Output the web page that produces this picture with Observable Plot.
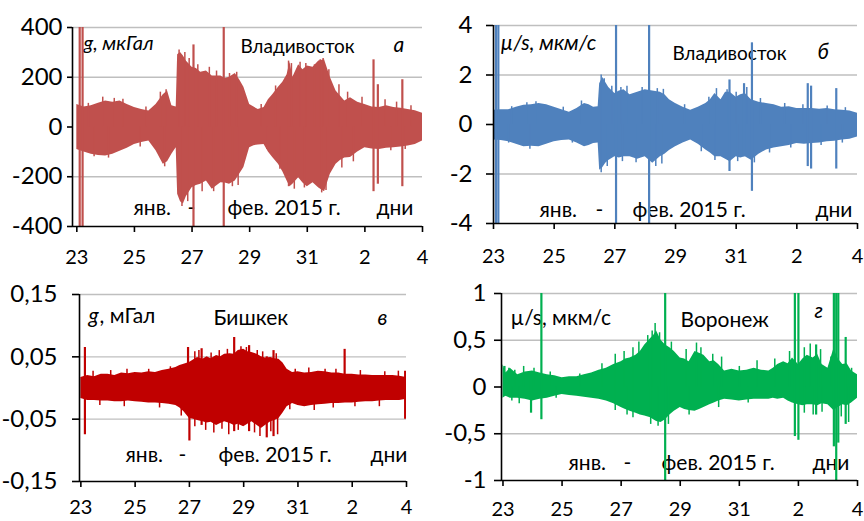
<!DOCTYPE html>
<html>
<head>
<meta charset="utf-8">
<script src="https://cdn.jsdelivr.net/npm/d3@7"></script>
<script src="https://cdn.jsdelivr.net/npm/@observablehq/plot@0.6"></script>
<style>
  html, body { margin: 0; padding: 0; background: #fff; }
  #wrap { position: relative; width: 864px; height: 521px; overflow: hidden; background: #fff; }
  .panel { position: absolute; }
  svg { font-family: Lato, "Open Sans", sans-serif; overflow: visible; }
</style>
</head>
<body>
<div id="wrap">
  <div class="panel" id="pa" style="left:0;top:0"></div>
  <div class="panel" id="pb" style="left:432px;top:0"></div>
  <div class="panel" id="pc" style="left:0;top:265px"></div>
  <div class="panel" id="pd" style="left:432px;top:265px"></div>
</div>
<script>
// ---------- shared x axis (days: 23 Jan ... 4 Feb 2015) ----------
const xTickDays = [23, 25, 27, 29, 31, 33, 35];
const xTickLabels = ["23", "25", "27", "29", "31", "2", "4"];

// ---------- panel а: Владивосток, g, мкГал ----------
const aDay = [23,23.25,23.5,23.75,24,24.25,24.5,24.75,25,25.25,25.5,25.75,26,26.15,26.3,26.45,26.5,26.6,26.7,26.8,27,27.15,27.3,27.5,27.7,28,28.15,28.3,28.5,28.65,28.8,29,29.15,29.3,29.5,29.65,29.8,30,30.15,30.3,30.4,30.5,30.7,30.85,31,31.2,31.4,31.6,31.8,32,32.15,32.3,32.5,32.75,33,33.25,33.5,33.75,34,34.25,34.5,34.75,35];
const aHi = [90,80,85,95,105,100,105,90,78,70,64,90,130,145,85,80,290,300,285,265,240,235,220,225,205,205,195,200,215,190,160,90,80,70,78,110,130,160,180,210,260,200,250,230,245,240,265,270,200,145,125,105,118,100,90,80,78,85,78,75,70,65,55];
const aLo = [-90,-100,-110,-115,-117,-110,-97,-85,-70,-62,-56,-95,-150,-140,-110,-83,-270,-300,-310,-280,-244,-235,-230,-217,-250,-224,-225,-230,-217,-190,-163,-83,-75,-72,-70,-100,-123,-150,-180,-217,-240,-230,-204,-225,-240,-224,-245,-260,-190,-150,-135,-125,-123,-100,-83,-88,-90,-85,-83,-80,-76,-70,-56];
const aSpikeDay = [23.1, 23.2, 27.05, 28.1, 33.3, 33.45, 34.3];
const aSpikeHi  = [420, 420, 330, 420, 270, 170, 190];
const aSpikeLo  = [-420, -420, -420, -420, -260, -230, -240];
const aPeakDay = [23.4,23.9,24.3,24.6,25.4,25.9,26.1,26.55,26.75,26.9,27.2,27.6,27.85,28.3,28.55,29.4,29.9,30.35,30.45,30.75,30.95,31.25,31.45,31.55,31.75,32.1,32.4,32.9,33.7,34.1,34.6,23.6,24.1,25.2,26.05,26.65,26.85,27.35,27.75,28.4,28.6,29.6,30.05,30.35,30.55,30.9,31.5,31.65,32.2,32.6,33.9,34.4];
const aPeakVal = [95,120,115,112,80,140,150,310,300,275,250,240,225,215,220,90,165,265,255,260,255,250,270,275,230,170,140,120,110,100,85,-120,-125,-80,-160,-320,-300,-260,-260,-240,-235,-90,-170,-240,-250,-245,-265,-255,-165,-140,-95,-90];
const aTicks = [-400, -200, 0, 200, 400];

// ---------- panel б: Владивосток, µ/s, мкм/с ----------
const bDay = [23,23.25,23.5,23.75,24,24.25,24.5,24.75,25,25.25,25.5,25.75,26,26.15,26.3,26.45,26.5,26.6,26.7,26.8,27,27.15,27.3,27.5,27.75,28,28.25,28.5,28.65,28.8,29,29.25,29.5,29.75,30,30.15,30.3,30.5,30.65,30.8,30.9,31,31.15,31.3,31.5,31.75,32,32.25,32.5,32.75,33,33.25,33.5,33.75,34,34.25,34.5,34.75,35];
const bHi = [0.58,0.6,0.6,0.7,0.78,0.8,0.85,0.8,0.7,0.6,0.5,0.65,0.85,0.8,0.7,0.72,1.65,1.9,1.7,1.5,1.25,1.35,1.4,1.2,1.3,1.4,1.35,1.3,1.2,1.0,0.85,0.7,0.58,0.7,0.85,1.0,1.25,1.0,1.3,1.3,1.2,1.1,1.2,1.25,1.0,0.9,0.85,0.8,0.7,0.72,0.65,0.65,0.65,0.62,0.65,0.6,0.58,0.55,0.45];
const bLo = [-0.63,-0.65,-0.7,-0.8,-0.9,-0.88,-0.9,-0.8,-0.7,-0.65,-0.63,-0.75,-0.9,-0.85,-0.77,-0.75,-1.85,-1.75,-1.57,-1.45,-1.3,-1.35,-1.3,-1.3,-1.4,-1.3,-1.57,-1.3,-1.2,-1.05,-0.9,-0.75,-0.63,-0.8,-1.03,-1.15,-1.3,-1.3,-1.4,-1.5,-1.4,-1.3,-1.35,-1.3,-1.44,-1.2,-1.03,-0.95,-0.9,-0.85,-0.77,-0.8,-0.77,-0.75,-0.7,-0.68,-0.63,-0.6,-0.5];
const bSpikeDay = [23.08, 23.16, 27.04, 28.13, 30.78, 31.26, 31.52, 33.36, 33.47, 34.3];
const bSpikeHi  = [4.2, 4.2, 4.2, 4.2, 1.8, 1.65, 3.3, 1.65, 1.55, 1.45];
const bSpikeLo  = [-4.2, -4.2, -4.2, -4.2, -1.9, -1.3, -2.7, -1.7, -1.8, -1.8];
const bPeakDay = [23.6,24.1,24.4,25.3,25.9,26.55,26.65,26.9,27.2,27.4,27.9,28.4,28.6,29.3,30.1,30.35,30.7,31.0,31.35,31.8,32.6,33.2,34.0,34.6,23.5,24.2,25.6,26.55,26.75,27.25,27.7,28.35,28.55,29.85,30.3,31.05,31.6,32.1,32.8,33.8,34.5];
const bPeakVal = [0.72,0.88,0.92,0.7,0.95,2.0,1.85,1.55,1.5,1.55,1.5,1.45,1.42,0.8,1.1,1.45,1.4,1.3,1.5,1.05,0.85,0.8,0.75,0.68,-0.75,-1.0,-0.75,-1.95,-1.7,-1.5,-1.55,-1.7,-1.6,-1.1,-1.45,-1.5,-1.55,-1.15,-0.95,-0.85,-0.75];
const bTicks = [-4, -2, 0, 2, 4];

// ---------- panel в: Бишкек, g, мГал ----------
const cDay = [23,23.25,23.5,23.75,24,24.25,24.5,24.75,25,25.25,25.5,25.75,26,26.25,26.5,26.65,26.8,27,27.15,27.3,27.5,27.65,27.8,28,28.15,28.3,28.5,28.65,28.8,29,29.15,29.3,29.5,29.65,29.8,30,30.15,30.3,30.45,30.6,30.8,31,31.25,31.5,31.75,32,32.25,32.5,32.75,33,33.25,33.5,33.75,34,34.25,34.5,34.75,35];
const cHi = [0.017,0.02,0.018,0.022,0.022,0.02,0.024,0.023,0.025,0.024,0.026,0.025,0.028,0.03,0.033,0.036,0.038,0.041,0.045,0.049,0.046,0.05,0.047,0.052,0.05,0.054,0.055,0.054,0.06,0.062,0.058,0.057,0.054,0.05,0.048,0.049,0.047,0.046,0.04,0.03,0.025,0.026,0.024,0.025,0.027,0.026,0.024,0.024,0.022,0.022,0.021,0.021,0.02,0.02,0.02,0.02,0.019,0.017];
const cLo = [-0.017,-0.02,-0.02,-0.021,-0.021,-0.022,-0.022,-0.021,-0.022,-0.023,-0.024,-0.024,-0.025,-0.026,-0.028,-0.032,-0.038,-0.049,-0.05,-0.052,-0.054,-0.056,-0.055,-0.06,-0.057,-0.054,-0.057,-0.06,-0.058,-0.062,-0.058,-0.054,-0.06,-0.065,-0.06,-0.054,-0.052,-0.049,-0.04,-0.03,-0.025,-0.028,-0.03,-0.028,-0.027,-0.026,-0.025,-0.025,-0.024,-0.024,-0.023,-0.022,-0.022,-0.021,-0.02,-0.02,-0.02,-0.018];
const cSpikeDay = [23.15, 26.95, 27.0, 27.45, 28.65, 29.2, 29.85, 30.1, 32.72, 34.95];
const cSpikeHi  = [0.065, 0.065, 0.04, 0.063, 0.081, 0.068, 0.05, 0.06, 0.062, 0.027];
const cSpikeLo  = [-0.075, -0.04, -0.085, -0.06, -0.07, -0.07, -0.08, -0.078, -0.02, -0.05];
const cPeakDay = [23.45,24.1,24.7,25.5,26.3,27.2,27.35,27.8,28.1,28.4,28.9,29.1,29.5,29.7,30.2,30.9,31.4,32.0,32.4,33.3,34.2,34.7,23.7,24.6,25.9,26.7,27.2,27.6,27.9,28.2,28.45,28.8,29.4,29.6,30.0,30.25,30.7,31.6,32.3,33.1,34.0];
const cPeakVal = [0.027,0.028,0.03,0.03,0.034,0.058,0.06,0.056,0.06,0.062,0.066,0.065,0.06,0.058,0.055,0.03,0.032,0.03,0.03,0.028,0.026,0.027,-0.028,-0.03,-0.032,-0.045,-0.062,-0.068,-0.072,-0.066,-0.075,-0.068,-0.072,-0.078,-0.07,-0.075,-0.035,-0.036,-0.032,-0.03,-0.03];
const cTicks = [-0.15, -0.05, 0.05, 0.15];

// ---------- panel г: Воронеж, µ/s, мкм/с ----------
const dDay = [23,23.1,23.25,23.5,23.75,24,24.25,24.5,24.75,25,25.25,25.5,25.75,26,26.25,26.5,26.75,27,27.15,27.3,27.5,27.65,27.8,28,28.1,28.2,28.35,28.5,28.65,28.8,29,29.15,29.3,29.5,29.65,29.8,30,30.15,30.3,30.5,30.75,31,31.25,31.5,31.75,32,32.15,32.3,32.5,32.65,32.8,33,33.15,33.3,33.5,33.65,33.8,34,34.2,34.35,34.5,34.65,34.8,35];
const dHi = [0.24,0.15,0.2,0.13,0.16,0.17,0.15,0.13,0.12,0.1,0.11,0.11,0.13,0.15,0.18,0.2,0.24,0.27,0.3,0.31,0.34,0.38,0.45,0.52,0.55,0.6,0.5,0.45,0.42,0.38,0.31,0.3,0.27,0.38,0.36,0.34,0.27,0.28,0.24,0.17,0.19,0.17,0.18,0.2,0.18,0.17,0.2,0.24,0.27,0.25,0.31,0.24,0.3,0.34,0.31,0.35,0.24,0.2,0.41,0.3,0.24,0.25,0.17,0.13];
const dLo = [-0.12,-0.1,-0.12,-0.12,-0.13,-0.15,-0.13,-0.12,-0.1,-0.08,-0.09,-0.1,-0.11,-0.12,-0.13,-0.15,-0.18,-0.22,-0.24,-0.26,-0.28,-0.3,-0.31,-0.33,-0.35,-0.37,-0.38,-0.35,-0.3,-0.26,-0.22,-0.24,-0.25,-0.26,-0.24,-0.22,-0.19,-0.17,-0.15,-0.13,-0.14,-0.15,-0.14,-0.13,-0.13,-0.13,-0.12,-0.13,-0.12,-0.15,-0.17,-0.19,-0.2,-0.19,-0.19,-0.2,-0.18,-0.19,-0.25,-0.22,-0.19,-0.2,-0.17,-0.12];
const dSpikeDay = [23.05, 23.95, 24.3, 28.49, 32.88, 33.0, 33.6, 34.2, 34.28, 34.35, 34.6];
const dSpikeHi  = [0.22, 0.1, 1.05, 1.05, 1.05, 1.05, 0.45, 1.05, 1.05, 1.05, 0.53];
const dSpikeLo  = [-0.1, -0.28, -0.35, -1.05, -0.53, -0.57, -0.3, -0.64, -1.05, -0.6, -0.4];
const dPeakDay = [23.2,23.4,23.7,24.05,24.6,25.6,26.35,26.8,27.1,27.4,27.6,27.9,28.05,28.15,28.3,28.7,29.2,29.55,29.7,30.1,30.4,31.0,31.6,32.2,32.7,33.2,33.4,33.75,34.1,34.8,23.3,23.55,24.8,26.8,27.2,27.4,28.0,28.25,28.6,29.3,30.3,31.3,33.2,33.5,33.8,34.45,34.7];
const dPeakVal = [0.2,0.18,0.22,0.2,0.16,0.14,0.25,0.35,0.38,0.42,0.48,0.55,0.6,0.68,0.58,0.48,0.4,0.47,0.42,0.35,0.32,0.22,0.28,0.3,0.38,0.42,0.46,0.4,0.32,0.2,-0.15,-0.18,-0.12,-0.25,-0.3,-0.33,-0.4,-0.42,-0.4,-0.3,-0.22,-0.17,-0.28,-0.3,-0.27,-0.32,-0.38];
const dTicks = [-1, -0.5, 0, 0.5, 1];

// ---------- helpers ----------
const zip3 = (d, a, b) => d.map((v, i) => ({d: v, hi: a[i], lo: b[i]}));
const zip2 = (d, a) => d.map((v, i) => ({d: v, v: a[i]}));
const commaFmt = v => String(v).replace(".", ",");
const xLabel = v => xTickLabels[xTickDays.indexOf(v)];

function panel(cfg) {
  const [y0] = cfg.yDomain;
  const series = zip3(cfg.day, cfg.hi, cfg.lo);
  const spikes = zip3(cfg.sDay, cfg.sHi, cfg.sLo);
  const peaks = zip2(cfg.pDay, cfg.pVal);
  const textMark = (t) => Plot.text([t.s], {
    text: d => d, frameAnchor: "top-left", dx: t.dx, dy: t.dy,
    textAnchor: "start", lineAnchor: "middle", fontSize: t.fs,
    fontStyle: t.it ? "italic" : "normal", fill: "#000"
  });
  return Plot.plot({
    width: cfg.width, height: cfg.height,
    marginLeft: cfg.ml, marginRight: cfg.mr, marginTop: cfg.mt, marginBottom: cfg.mb,
    x: {domain: cfg.xDomain, axis: null},
    y: {domain: cfg.yDomain, axis: null},
    style: {fontFamily: "Lato, 'Open Sans', sans-serif", background: "transparent", color: "#000", overflow: "visible"},
    marks: [
      Plot.ruleY(cfg.ticks.filter(t => t !== y0 && t !== 0), {stroke: "#bfbfbf", strokeWidth: 1.3}),
      ...cfg.texts.map(textMark),
      Plot.areaY(series, {x: "d", y1: "lo", y2: "hi", fill: cfg.color, curve: "linear"}),
      Plot.ruleX(peaks, {x: "d", y1: 0, y2: "v", stroke: cfg.color, strokeWidth: 1.5}),
      Plot.ruleX(spikes, {x: "d", y1: "lo", y2: "hi", stroke: cfg.color, strokeWidth: 2.2, clip: true}),
      Plot.ruleX([cfg.xDomain[0]], {stroke: "#000", strokeWidth: 1.6}),
      Plot.ruleY([y0], {stroke: "#000", strokeWidth: 1.6}),
      Plot.axisY(cfg.ticks, {tickSize: cfg.yTickSize, tickPadding: cfg.yPad, tickFormat: commaFmt, label: null,
        fontSize: 24, stroke: "#000", strokeWidth: 1.6, fill: "#000"}),
      Plot.axisX(xTickDays, {tickSize: 6, tickPadding: cfg.xPad, tickFormat: xLabel, label: null,
        fontSize: 20, stroke: "#000", strokeWidth: 1.6, fill: "#000"})
    ]
  });
}

document.getElementById("pa").appendChild(panel({
  width: 432, height: 265, ml: 72, mr: 10, mt: 27, mb: 39,
  xDomain: [22.85, 35], yDomain: [-400, 400], ticks: aTicks, color: "#c0504d",
  yTickSize: 5, yPad: 5, xPad: 17,
  day: aDay, hi: aHi, lo: aLo, sDay: aSpikeDay, sHi: aSpikeHi, sLo: aSpikeLo, pDay: aPeakDay, pVal: aPeakVal,
  texts: [
    {s: "g, мкГал", dx: 11, dy: 16, it: true, fs: 20},
    {s: "Владивосток", dx: 168, dy: 19, fs: 19},
    {s: "а", dx: 321, dy: 18, it: true, fs: 21},
    {s: "янв.", dx: 61, dy: 181, fs: 21},
    {s: "-", dx: 115, dy: 181, fs: 21},
    {s: "фев. 2015 г.", dx: 155, dy: 181, fs: 21},
    {s: "дни", dx: 304, dy: 181, fs: 21}
  ]
}));

document.getElementById("pb").appendChild(panel({
  width: 432, height: 265, ml: 61, mr: 7, mt: 25, mb: 42,
  xDomain: [23, 35], yDomain: [-4, 4], ticks: bTicks, color: "#4f81bd",
  yTickSize: 7, yPad: 14, xPad: 19,
  day: bDay, hi: bHi, lo: bLo, sDay: bSpikeDay, sHi: bSpikeHi, sLo: bSpikeLo, pDay: bPeakDay, pVal: bPeakVal,
  texts: [
    {s: "µ/s, мкм/с", dx: 7, dy: 18, it: true, fs: 21},
    {s: "Владивосток", dx: 179, dy: 28, fs: 19},
    {s: "б", dx: 324, dy: 27, it: true, fs: 21},
    {s: "янв.", dx: 46, dy: 185, fs: 21},
    {s: "-", dx: 102, dy: 185, fs: 21},
    {s: "фев. 2015 г.", dx: 139, dy: 185, fs: 21},
    {s: "дни", dx: 322, dy: 185, fs: 21}
  ]
}));

document.getElementById("pc").appendChild(panel({
  width: 432, height: 256, ml: 79, mr: 26, mt: 29, mb: 40,
  xDomain: [22.95, 35], yDomain: [-0.15, 0.15], ticks: cTicks, color: "#c00000",
  yTickSize: 7, yPad: 15, xPad: 12,
  day: cDay, hi: cHi, lo: cLo, sDay: cSpikeDay, sHi: cSpikeHi, sLo: cSpikeLo, pDay: cPeakDay, pVal: cPeakVal,
  texts: [
    {s: "g", dx: 9, dy: 22, it: true, fs: 21},
    {s: ", мГал", dx: 20, dy: 22, fs: 21},
    {s: "Бишкек", dx: 134, dy: 24, fs: 21},
    {s: "в", dx: 298, dy: 24, it: true, fs: 21},
    {s: "янв.", dx: 46, dy: 161, fs: 21},
    {s: "-", dx: 99, dy: 161, fs: 21},
    {s: "фев. 2015 г.", dx: 139, dy: 161, fs: 21},
    {s: "дни", dx: 291, dy: 161, fs: 21}
  ]
}));

document.getElementById("pd").appendChild(panel({
  width: 432, height: 256, ml: 69, mr: 7, mt: 28, mb: 41,
  xDomain: [22.95, 35], yDomain: [-1, 1], ticks: dTicks, color: "#00b050",
  yTickSize: 7, yPad: 8, xPad: 15,
  day: dDay, hi: dHi, lo: dLo, sDay: dSpikeDay, sHi: dSpikeHi, sLo: dSpikeLo, pDay: dPeakDay, pVal: dPeakVal,
  texts: [
    {s: "µ/s, мкм/с", dx: 9, dy: 25, fs: 21},
    {s: "Воронеж", dx: 179, dy: 27, fs: 21},
    {s: "г", dx: 313, dy: 18, it: true, fs: 21},
    {s: "янв.", dx: 67, dy: 170, fs: 21},
    {s: "-", dx: 122, dy: 170, fs: 21},
    {s: "фев. 2015 г.", dx: 160, dy: 170, fs: 21},
    {s: "дни", dx: 311, dy: 170, fs: 21}
  ]
}));
</script>
</body>
</html>
